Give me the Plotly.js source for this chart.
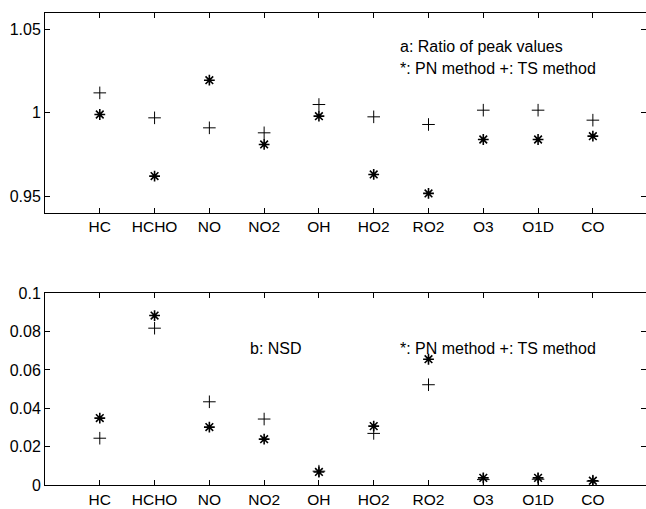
<!DOCTYPE html>
<html>
<head>
<meta charset="utf-8">
<script src="https://cdn.plot.ly/plotly-3.0.1.min.js"></script>
<style>html,body{margin:0;padding:0;background:#fff;}#chart{width:646px;height:509px;}</style>
</head>
<body>
<div id="chart"></div>
<script>
var species = ["HC","HCHO","NO","NO2","OH","HO2","RO2","O3","O1D","CO"];
var xPos = [1,2,3,4,5,6,7,8,9,10];
// Panel a: ratio of peak values
var ratioPN = [0.999, 0.962, 1.0196, 0.981, 0.998, 0.963, 0.9516, 0.984, 0.984, 0.986];
var ratioTS = [1.012, 0.997, 0.991, 0.988, 1.005, 0.9976, 0.993, 1.0016, 1.0016, 0.9956];
// Panel b: NSD
var nsdPN = [0.0349, 0.0884, 0.0302, 0.0239, 0.0068, 0.0307, 0.0656, 0.0037, 0.0037, 0.0022];
var nsdTS = [0.0244, 0.0818, 0.0434, 0.0344, 0.0072, 0.0269, 0.0523, 0.0028, 0.0030, 0.0020];

var starMarker = {symbol: "asterisk-open", size: 9, color: "#000", line: {color: "#000", width: 1.6}};
var plusMarker = {symbol: "cross-thin-open", size: 9, color: "#000", line: {color: "#000", width: 1}};

var traces = [
  {x: xPos, y: ratioPN, type: "scatter", mode: "markers", marker: starMarker, xaxis: "x", yaxis: "y", name: "PN"},
  {x: xPos, y: ratioTS, type: "scatter", mode: "markers", marker: plusMarker, xaxis: "x", yaxis: "y", name: "TS"},
  {x: xPos, y: nsdPN, type: "scatter", mode: "markers", marker: starMarker, xaxis: "x2", yaxis: "y2", name: "PN"},
  {x: xPos, y: nsdTS, type: "scatter", mode: "markers", marker: plusMarker, xaxis: "x2", yaxis: "y2", name: "TS"}
];

var axFont = {family: "Liberation Sans, Arial, sans-serif", size: 16, color: "#000"};
var xFont = {family: "Liberation Sans, Arial, sans-serif", size: 15.5, color: "#000"};
function xAx(anchor) {
  return {range: [0, 10.97], tickvals: xPos, ticktext: species, ticks: "inside", ticklen: 5,
    tickcolor: "#000", showline: true, linecolor: "#000", linewidth: 1, mirror: "ticks",
    showgrid: false, zeroline: false, tickfont: xFont, anchor: anchor, fixedrange: true};
}
function yAx(range, vals, text, domain, anchor) {
  return {range: range, tickvals: vals, ticktext: text, ticks: "inside", ticklen: 5,
    tickcolor: "#000", showline: true, linecolor: "#000", linewidth: 1, mirror: "ticks",
    showgrid: false, zeroline: false, tickfont: axFont, domain: domain, anchor: anchor, fixedrange: true};
}

var annFont = {family: "Liberation Sans, Arial, sans-serif", size: 16, color: "#000"};
var layout = {
  width: 646, height: 509,
  margin: {l: 44.5, r: 0, t: 0, b: 0},
  paper_bgcolor: "#fff", plot_bgcolor: "#fff",
  showlegend: false,
  xaxis: xAx("y"),
  yaxis: yAx([0.94, 1.06], [0.95, 1, 1.05], ["0.95", "1", "1.05"], [0.5821, 0.9745], "x"),
  xaxis2: xAx("y2"),
  yaxis2: yAx([0, 0.1], [0, 0.02, 0.04, 0.06, 0.08, 0.1], ["0", "0.02", "0.04", "0.06", "0.08", "0.1"], [0.0472, 0.4238], "x2"),
  annotations: [
    {text: "a: Ratio of peak values", xref: "paper", yref: "paper", x: 0.588, y: 0.9077, xanchor: "left", yanchor: "middle", showarrow: false, font: annFont},
    {text: "*: PN method +: TS method", xref: "paper", yref: "paper", x: 0.588, y: 0.8664, xanchor: "left", yanchor: "middle", showarrow: false, font: annFont},
    {text: "b: NSD", xref: "paper", yref: "paper", x: 0.338, y: 0.316, xanchor: "left", yanchor: "middle", showarrow: false, font: annFont},
    {text: "*: PN method +: TS method", xref: "paper", yref: "paper", x: 0.588, y: 0.316, xanchor: "left", yanchor: "middle", showarrow: false, font: annFont}
  ]
};

Plotly.newPlot("chart", traces, layout, {staticPlot: true, displayModeBar: false});
</script>
</body>
</html>
